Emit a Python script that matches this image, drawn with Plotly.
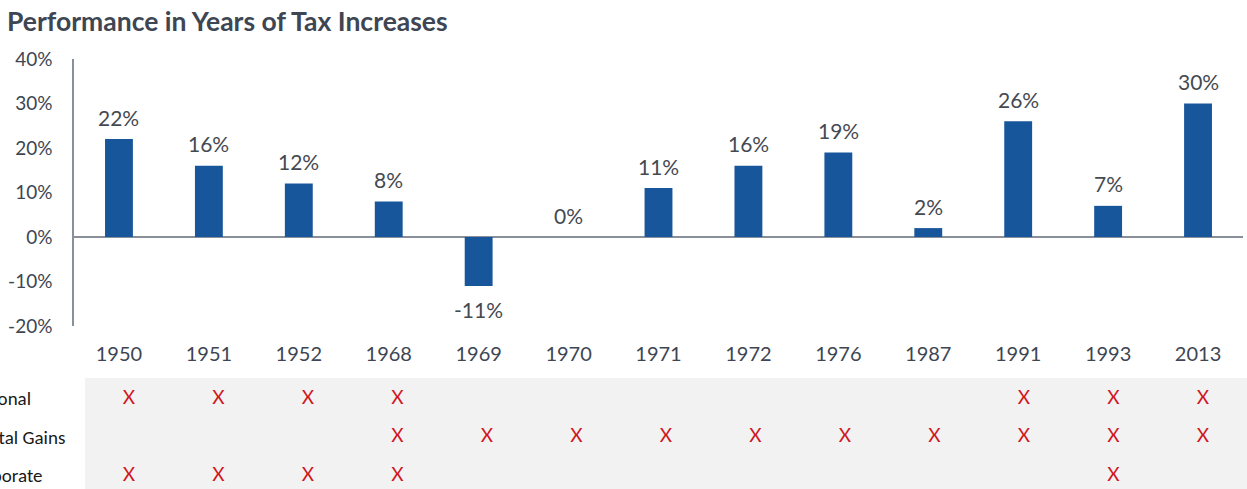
import plotly.graph_objects as go

years = ["1950", "1951", "1952", "1968", "1969", "1970", "1971", "1972", "1976", "1987", "1991", "1993", "2013"]
returns = [22, 16, 12, 8, -11, 0, 11, 16, 19, 2, 26, 7, 30]
y_ticks = [-20, -10, 0, 10, 20, 30, 40]
y_tick_labels = ["-20%", "-10%", "0%", "10%", "20%", "30%", "40%"]

row_labels = ["Personal", "Capital Gains", "Corporate"]
personal_years = ["1950", "1951", "1952", "1968", "1991", "1993", "2013"]
capgains_years = ["1968", "1969", "1970", "1971", "1972", "1976", "1987", "1991", "1993", "2013"]
corporate_years = ["1950", "1951", "1952", "1968", "1993"]
table_rows = [personal_years, capgains_years, corporate_years]

W, H = 1247, 489
L, R = 74, 4
plot_w = W - L - R

def py(px):
    return 1 - px / H

def pxx(px):
    return (px - L) / plot_w

TEXT = "#3d4652"
fig = go.Figure()

fig.add_trace(go.Bar(
    x=years, y=returns,
    marker=dict(color="#18569C", line=dict(width=0)),
    width=0.31,
    xaxis="x", yaxis="y",
    showlegend=False,
    hoverinfo="skip",
))

for i, v in enumerate(returns):
    fig.add_annotation(
        x=i, y=v, xref="x", yref="y", text=f"{v}%", showarrow=False,
        yanchor="middle", yshift=22 if v >= 0 else -24,
        font=dict(family="Lato", size=21, color="#444a52"),
    )

n_rows = len(table_rows)
for i, row in enumerate(table_rows):
    fig.add_trace(go.Scatter(
        x=row, y=[n_rows - 1 - i] * len(row),
        mode="text", text=["X"] * len(row),
        textfont=dict(family="Lato", size=19, color="#d0161e"),
        xaxis="x2", yaxis="y2", showlegend=False,
        cliponaxis=False, hoverinfo="skip",
    ))

# table background
fig.add_shape(type="rect", xref="paper", yref="paper",
              x0=pxx(85), x1=pxx(1250), y0=py(489), y1=py(378),
              fillcolor="#f2f2f2", line=dict(width=0), layer="below")

for i, lab in enumerate(row_labels):
    fig.add_annotation(
        text=lab, xref="paper", yref="y2",
        x=pxx(-37), y=n_rows - 1 - i, xanchor="left", yanchor="middle",
        showarrow=False, font=dict(family="Carlito, Lato", size=19, color="#1a1a1a"),
    )

fig.update_layout(
    width=W, height=H,
    margin=dict(l=L, r=R, t=0, b=0, autoexpand=False),
    paper_bgcolor="white", plot_bgcolor="rgba(0,0,0,0)",
    title=dict(text="<b>Performance in Years of Tax Increases</b>",
               x=7 / W, xanchor="left", y=1 - 22 / H, yanchor="middle",
               font=dict(family="Lato", size=26.5, color=TEXT)),
    xaxis=dict(domain=[0, 1], range=[-0.5, 12.5], type="category",
               categoryorder="array", categoryarray=years,
               showline=False, showgrid=False, zeroline=False,
               ticks="outside", ticklen=10, tickcolor="rgba(0,0,0,0)",
               tickfont=dict(family="Lato", size=20, color=TEXT),
               anchor="y", automargin=False),
    yaxis=dict(domain=[py(326), py(59)], range=[-20, 40],
               tickvals=y_ticks, ticktext=y_tick_labels,
               showgrid=False, showline=True, linecolor="#8a9099", linewidth=1.5,
               zeroline=True, zerolinecolor="#8a9099", zerolinewidth=1.5,
               ticks="outside", ticklen=16, tickcolor="rgba(0,0,0,0)",
               tickfont=dict(family="Lato", size=19, color=TEXT),
               anchor="x", automargin=False),
    xaxis2=dict(domain=[pxx(84.25), 1], range=[-0.5, 12.447], type="category",
                categoryorder="array", categoryarray=years,
                showticklabels=False, showline=False, showgrid=False, zeroline=False,
                anchor="y2", automargin=False),
    yaxis2=dict(domain=[0, py(378)], range=[-0.338, 2.545],
                showticklabels=False, showline=False, showgrid=False, zeroline=False,
                anchor="x2", automargin=False),
)

fig.write_html("out.html", config={"displayModeBar": False},
               post_script="document.body.style.margin='0';document.body.style.overflow='hidden';")
